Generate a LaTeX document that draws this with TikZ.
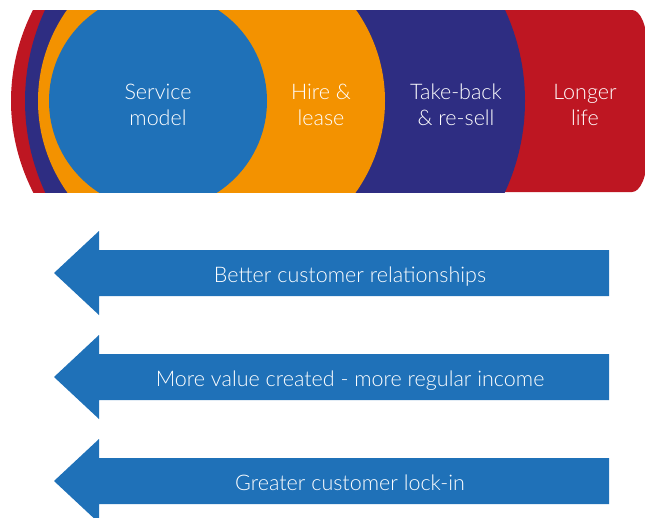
\documentclass[tikz,border=0pt]{standalone}
\usepackage{fontspec}
\setmainfont{Lato Light}
\definecolor{cblue}{HTML}{1F71B8}
\definecolor{corange}{HTML}{F39200}
\definecolor{cnavy}{HTML}{2E2D82}
\definecolor{cred}{HTML}{BE1622}
\tikzset{
  lbl/.style={text=white, align=center, font=\fontsize{21.5}{26}\selectfont, inner sep=0pt},
  arrowshape/.style={fill=cblue},
}
\newcommand{\leftarrowshape}[1]{%
  \fill[arrowshape] (609,#1-23) -- (99,#1-23) -- (99,#1-42) -- (54,#1) -- (99,#1+42) -- (99,#1+23) -- (609,#1+23) -- cycle;}
\begin{document}
\begin{tikzpicture}[x=1pt,y=-1pt]
\useasboundingbox (0,0) rectangle (645,517);
\begin{scope}
  \clip (0,10) rectangle (333,192);
  \fill[cred] (332.5,101) ellipse [x radius=321.5pt, y radius=250pt];
\end{scope}
\fill[cred] (332,10) -- (632,10) .. controls (640.3,10) and (647,25.7) .. (647,45)
  -- (647,157) .. controls (647,176.3) and (640.3,192) .. (632,192) -- (332,192) -- cycle;
\begin{scope}
  \clip (0,10) rectangle (645,192);
  \fill[cnavy] (275,101) ellipse [x radius=250pt, y radius=232pt];
  \fill[corange] (211.5,101) ellipse [x radius=173.5pt, y radius=164.5pt];
  \fill[cblue] (158,101) circle [radius=109pt];
\end{scope}
\node[lbl] (sm) at (158,105) {Service\\model};
\node[lbl] (hl) at (321,105) {Hire \&\\lease};
\node[lbl] (tb) at (456,105) {Take-back\\\& re-sell};
\node[lbl] (ll) at (585,105) {Longer\\life};
\leftarrowshape{273}
\leftarrowshape{377}
\leftarrowshape{481}
\node[lbl, anchor=base] (a1) at (350,282) {Better customer relationships};
\node[lbl, anchor=base] (a2) at (350,386) {More value created - more regular income};
\node[lbl, anchor=base] (a3) at (350,490) {Greater customer lock-in};
\end{tikzpicture}
\end{document}
